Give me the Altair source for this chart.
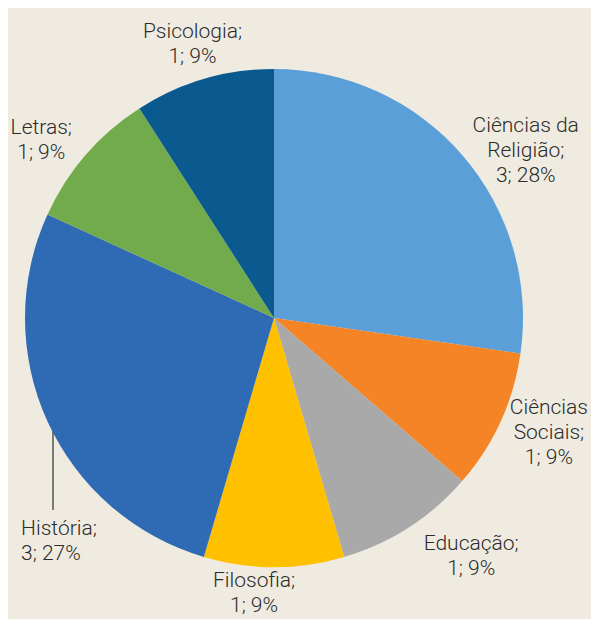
import altair as alt
import pandas as pd

# ---- data ----
categories = ["Ciências da Religião", "Ciências Sociais", "Educação", "Filosofia",
              "História", "Letras", "Psicologia"]
counts = [3, 1, 1, 1, 3, 1, 1]
percents = [28, 9, 9, 9, 27, 9, 9]
name_lines = [["Ciências da", "Religião;"], ["Ciências", "Sociais;"], ["Educação;"],
              ["Filosofia;"], ["História;"], ["Letras;"], ["Psicologia;"]]
colors = ["#5b9fd8", "#f48426", "#a9a9a9", "#ffc000", "#2e6bb4", "#72ab4b", "#0a5a90"]

labels = ["\n".join(n + [f"{c}; {p}%"]) for n, c, p in zip(name_lines, counts, percents)]
total = sum(counts)

df = pd.DataFrame({
    "category": categories,
    "count": counts,
    "order": list(range(len(categories))),
    "label": labels,
})

# ---- layout ----
CX, CY, R = 266, 310, 249
LR = 300
nudges = {
    "Ciências da Religião": (25, 4, "center"),
    "Ciências Sociais": (2, -35, "center"),
    "Educação": (35, -26, "center"),
    "Filosofia": (-20, -37, "center"),
    "História": (20, 86, "left"),
    "Letras": (-6, 6, "center"),
    "Psicologia": (3, 2, "center"),
}
theta_scale = alt.Scale(domain=[0, total])
FONT = "Roboto"

base = alt.Chart(df)

leader = base.transform_filter(alt.datum.category == "História").mark_rule(
    color="#555555", strokeWidth=1.5
).encode(x=alt.value(45), y=alt.value(418), y2=alt.value(502))

pie = base.mark_arc(outerRadius=R).encode(
    theta=alt.Theta("count:Q", stack=True, scale=theta_scale),
    color=alt.Color("category:N", scale=alt.Scale(domain=categories, range=colors), legend=None),
    order=alt.Order("order:Q"),
    x=alt.value(CX),
    y=alt.value(CY),
)

layers = [leader, pie]
for cat in categories:
    dx, dy, align = nudges[cat]
    t = (
        base.transform_window(cum="sum(count)", sort=[alt.SortField("order")], frame=[None, 0])
        .transform_calculate(mid="datum.cum - datum.count / 2")
        .transform_filter(alt.datum.category == cat)
        .mark_text(radius=LR, dx=dx, dy=dy, align=align, baseline="middle",
                   lineBreak="\n", lineHeight=25, fontSize=21, font=FONT,
                   fontWeight=300, color="#2b2b2b")
        .encode(
            theta=alt.Theta("mid:Q", stack=False, scale=theta_scale),
            text="label:N",
            x=alt.value(CX),
            y=alt.value(CY),
        )
    )
    layers.append(t)

chart = alt.layer(*layers).properties(
    width=583, height=611,
    autosize=alt.AutoSizeParams(type="none"),
    padding=0,
    background="#f0ebe0",
).configure_view(stroke=None)

chart.save("out.html", embed_options={"renderer": "svg", "actions": False})
